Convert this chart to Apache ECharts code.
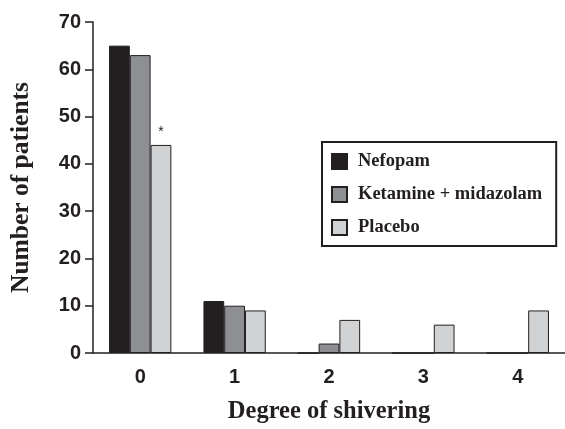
<!DOCTYPE html>
<html>
<head>
<meta charset="utf-8">
<script src="https://cdn.jsdelivr.net/npm/echarts@6/dist/echarts.min.js"></script>
<style>
html, body { margin: 0; padding: 0; background: #fff; }
#chart { width: 565px; height: 429px; }
</style>
</head>
<body>
<div id="chart"></div>
<script>
// 数据
var degrees = ['0', '1', '2', '3', '4'];
var nefopam = [65, 11, 0, 0, 0];
var ketamine = [63, 10, 2, 0, 0];
var placebo = [44, 9, 7, 6, 9];
var yTicks = [0, 10, 20, 30, 40, 50, 60, 70];

var serifFont = '"Liberation Serif", "Times New Roman", serif';
var sansFont = '"Liberation Sans", Arial, sans-serif';

var myChart = echarts.init(document.getElementById('chart'));

function barSeries(name, data, color) {
	return {
		name : name,
		type : 'bar',
		data : data,
		barWidth : '22%',
		barGap : '0%',
		itemStyle : {
			color : color,
			borderColor : '#231f20',
			borderWidth : 1
		}
	};
}

var placeboData = placebo.map(function(v, i) {
	if (i == 0) {
		// 显著性星号
		return {
			value : v,
			label : {
				show : true,
				position : 'top',
				formatter : '*',
				color : '#231f20',
				fontSize : 14,
				distance : 6
			}
		};
	}
	return v;
});

var option = {
	animation : false,
	grid : {
		left : 87,
		right : -5,
		top : 22,
		bottom : 65
	},
	legend : {
		orient : 'vertical',
		left : 322,
		top : 142,
		padding : [10, 14, 9, 9],
		itemGap : 14,
		itemWidth : 15,
		itemHeight : 15,
		borderColor : '#231f20',
		borderWidth : 2,
		backgroundColor : '#fff',
		icon : 'rect',
		textStyle : {
			fontFamily : serifFont,
			fontWeight : 'bold',
			fontSize : 18.5,
			color : '#231f20',
			padding : [0, 0, 0, 6]
		},
		data : [ 'Nefopam', 'Ketamine + midazolam', 'Placebo' ]
	},
	xAxis : {
		type : 'category',
		data : degrees,
		name : 'Degree of shivering',
		nameLocation : 'middle',
		nameGap : 46,
		nameTextStyle : {
			fontFamily : serifFont,
			fontWeight : 'bold',
			fontSize : 24.5,
			color : '#231f20'
		},
		axisLine : { lineStyle : { color : '#231f20', width : 1.5 } },
		axisTick : { length : 8, lineStyle : { color : '#231f20', width : 1.5 } },
		axisLabel : {
			margin : 14,
			fontFamily : sansFont,
			fontWeight : 'bold',
			fontSize : 20,
			color : '#231f20'
		}
	},
	yAxis : {
		type : 'value',
		min : 0,
		max : 70,
		interval : 10,
		name : 'Number of patients',
		nameLocation : 'middle',
		nameGap : 59,
		nameTextStyle : {
			fontFamily : serifFont,
			fontWeight : 'bold',
			fontSize : 25.5,
			color : '#231f20'
		},
		splitLine : { show : false },
		axisLine : { show : true, lineStyle : { color : '#231f20', width : 1.5 } },
		axisTick : { show : true, length : 8, lineStyle : { color : '#231f20', width : 1.5 } },
		axisLabel : {
			margin : 12,
			fontFamily : sansFont,
			fontWeight : 'bold',
			fontSize : 20,
			color : '#231f20',
			formatter : function(v) {
				return yTicks.indexOf(v) >= 0 ? v : '';
			}
		}
	},
	series : [
		barSeries('Nefopam', nefopam, '#231f20'),
		barSeries('Ketamine + midazolam', ketamine, '#8e8f92'),
		barSeries('Placebo', placeboData, '#d1d2d4')
	]
};
myChart.setOption(option);
</script>
</body>
</html>
